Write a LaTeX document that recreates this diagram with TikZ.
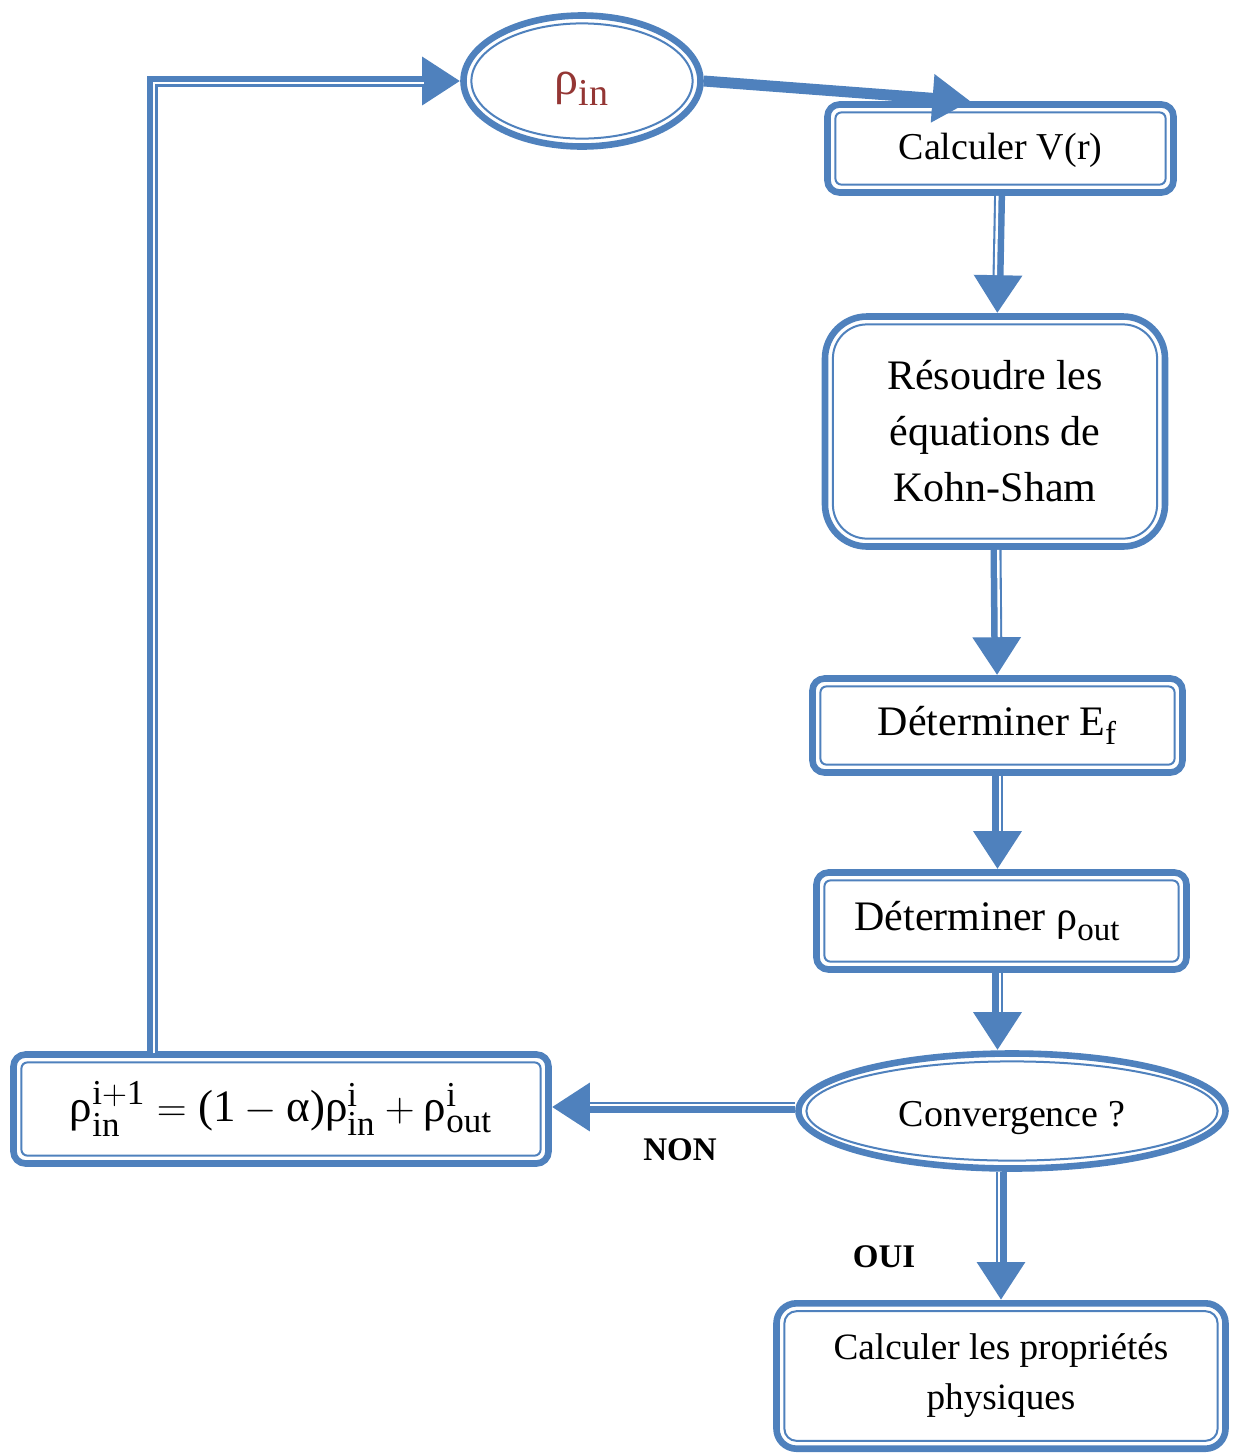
\documentclass[tikz,border=0pt]{standalone}
\usepackage{amsmath}
\usepackage{fontspec}
\setmainfont{Liberation Serif}
\usetikzlibrary{arrows.meta,calc,positioning,shapes.geometric}
\definecolor{scfBlue}{HTML}{4F81BD}
\definecolor{scfRed}{HTML}{943634}
\DeclareMathSizes{21}{21}{16.5}{13}
\DeclareMathSizes{22.5}{22.5}{17.5}{14}
\DeclareMathSizes{24}{24}{19}{15}
\newcommand{\rh}{\text{ρ}}
\newcommand{\al}{\text{α}}
\tikzset{
  scfbox/.style={rectangle,rounded corners=6pt,draw=scfBlue,line width=3.3pt,
                 fill=white,align=center,inner sep=0pt,
                 font=\fontsize{19}{28}\selectfont},
  scfell/.style={ellipse,draw=scfBlue,line width=3.3pt,fill=white,
                 inner sep=0pt,font=\fontsize{19}{28}\selectfont},
  scfinner/.style={draw=scfBlue,line width=1pt},
  scfflow/.style={draw=scfBlue,line width=5.5pt,
                  -{Triangle[length=19pt,width=23pt]}},
  scfstripe/.style={postaction={draw=white,line width=1.2pt,-,
                  shorten >=19pt,transform canvas={#1}}},
  scflabel/.style={font=\fontsize{16.5}{20}\selectfont\bfseries}
}

\begin{document}
\begin{tikzpicture}[x=0.5pt,y=-0.5pt]
  \useasboundingbox (0,0) rectangle (1233,1453);

  % loop nodes
  \node[scfell,minimum width=118.5pt,minimum height=65.5pt,
        font=\fontsize{24}{28}\selectfont,text=scfRed,
        text height=19pt,text depth=6pt]
    (rhoin) at (582,81) {$\rh_{\mathrm{in}}$};
  \node[scfbox,minimum width=173pt,minimum height=44pt,
        text height=15pt,text depth=4pt]
    (calcV) at (1000.5,148.5) {Calculer V(r)};
  \node[scfbox,rounded corners=21pt,minimum width=170pt,minimum height=115pt,
        font=\fontsize{21}{28}\selectfont]
    (kohn) at (995,431.5) {Résoudre les\\équations de\\Kohn-Sham};
  \node[scfbox,minimum width=185pt,minimum height=47pt,
        font=\fontsize{21}{28}\selectfont]
    (ef) at (997.5,725.5) {Déterminer E$_{\mathrm{f}}$};
  \node[scfbox,minimum width=185pt,minimum height=48.5pt,
        font=\fontsize{21}{28}\selectfont]
    (rhoout) at (1001.5,921) {\hspace*{-14pt}Déterminer $\rh_{\mathrm{out}}$};
  \node[scfell,minimum width=213.5pt,minimum height=57.5pt,
        text height=19pt,text depth=4pt]
    (conv) at (1012,1111) {Convergence ?};
  \node[scfbox,minimum width=267.5pt,minimum height=54.5pt,
        font=\fontsize{22.5}{26}\selectfont]
    (mix) at (281,1109)
    {$\rh_{\mathrm{in}}^{\mathrm{i+1}} = \text{(1} - \al\text{)}
      \rh_{\mathrm{in}}^{\mathrm{i}} + \rh_{\mathrm{out}}^{\mathrm{i}}$};
  \node[scfbox,rounded corners=10pt,minimum width=224.5pt,minimum height=72.7pt,
        font=\fontsize{18.6}{25}\selectfont]
    (fin) at (1001,1376) {Calculer les propriétés\\physiques};

  % thin inner lines
  \foreach \nd/\r in {calcV/3pt,kohn/17pt,ef/3pt,rhoout/3pt,mix/3pt,fin/6pt}
    \draw[scfinner,rounded corners=\r]
      ([shift={(5.6pt,5.6pt)}]\nd.south west) rectangle
      ([shift={(-5.6pt,-5.6pt)}]\nd.north east);
  \foreach \nd in {rhoin,conv}
    \draw[scfinner] let \p1=($(\nd.east)-(\nd.center)$),
                        \p2=($(\nd.north)-(\nd.center)$) in
      (\nd.center) ellipse [x radius=\x1-5.6pt,y radius=\y2-5.6pt];

  % connectors
  \draw[scfflow] (rhoin.east) -- ([xshift=-15pt]calcV.north);
  \draw[scfflow,scfstripe={xshift=-1.1pt}] (calcV) -- (kohn);
  \draw[scfflow,scfstripe={xshift=1.1pt}] (kohn) -- (ef);
  \draw[scfflow,scfstripe={xshift=1.1pt}]
    (ef.south) -- (ef.south |- rhoout.north);
  \draw[scfflow,scfstripe={xshift=1.1pt}]
    (rhoout.south -| ef.south) -- (ef.south |- conv.north);
  \draw[scfflow,scfstripe={xshift=-1.1pt}]
    (conv.south -| fin.north) -- (fin.north);
  \draw[scfflow,scfstripe={yshift=1.1pt}]
    ([yshift=2pt]conv.west) -- ([yshift=2pt]conv.west -| mix.east);
  \draw[scfflow,scfstripe={shift={(1.1pt,-1.1pt)}}]
    ([xshift=-64.5pt]mix.north) |- (rhoin.west);

  \node[scflabel] (non) at (680,1150) {NON};
  \node[scflabel] (oui) at (884,1257) {OUI};
\end{tikzpicture}
\end{document}
